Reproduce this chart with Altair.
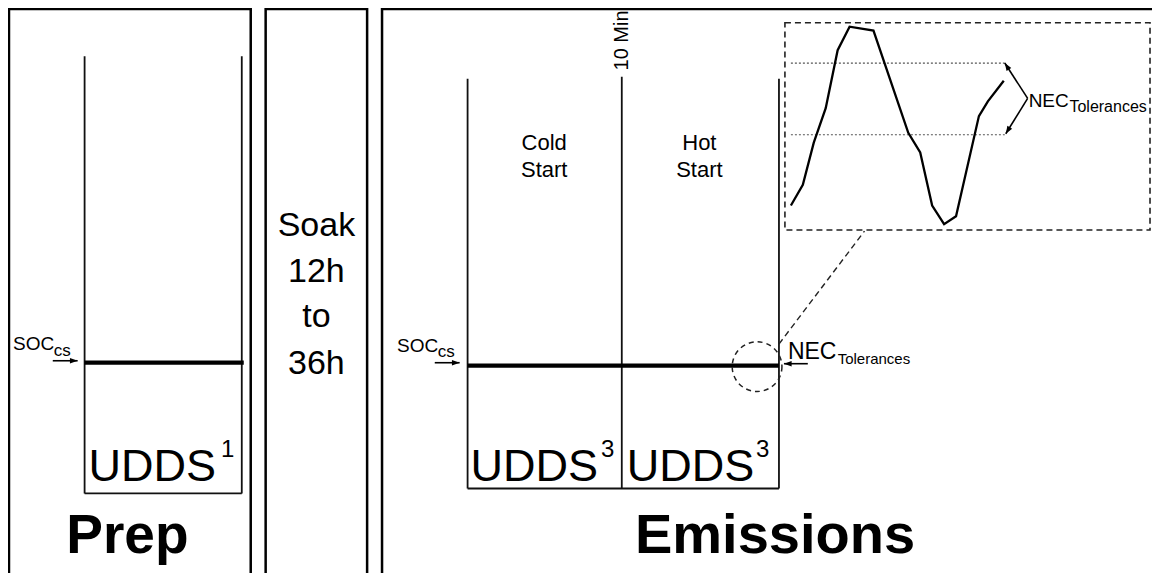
import math
import altair as alt
import pandas as pd

FONT = "Liberation Sans"

# ---------------- diagram geometry (diagram units ~ reference pixels) ----------------
# outer panels: Prep, Soak, Emissions
frame_x1 = [9, 267, 384]
frame_x2 = [252, 369, 1170]
frame_y1 = [4, 4, 4]
frame_y2 = [640, 640, 640]

# thin solid segments: prep cycle box, emissions cycle boxes, 10-min divider
thin_x1 = [85, 243, 85, 470, 625, 783, 470]
thin_y1 = [52, 52, 497, 75, 73, 75, 492]
thin_x2 = [85, 243, 243, 470, 625, 783, 783]
thin_y2 = [497, 497, 497, 492, 492, 492, 492]

# SOC (charge-sustaining) level lines
soc_x1 = [85, 470]
soc_x2 = [245, 783]
soc_y = [364, 367]

# arrows (tail -> head)
arrow_x1 = [53, 437, 812, 1033, 1033]
arrow_y1 = [362, 364, 365, 95, 95]
arrow_x2 = [78, 462, 788, 1010, 1011]
arrow_y2 = [362, 364, 365, 59, 131]

# zoomed-in SOC trace
trace_x = [795, 807, 818, 830, 842, 854, 878, 913, 925, 937, 949, 961, 984, 993, 1009]
trace_y = [204, 183, 140, 105, 46, 22, 26, 130, 150, 204, 223, 215, 113, 98, 77]

# tolerance band (dotted)
band_y = [59, 132]
band_x1 = [795, 795]
band_x2 = [1010, 1010]

# inset box, connector line, magnifier circle
inset_x1, inset_y1, inset_x2, inset_y2 = [789], [18], [1156], [229]
conn_x1, conn_y1, conn_x2, conn_y2 = [783], [345], [869], [230]
circle_x, circle_y, circle_r = [761], [368], 25

# texts
left_text = ["SOC", "cs", "SOC", "cs", "UDDS", "1", "UDDS", "3", "UDDS", "3",
             "NEC", "Tolerances", "NEC", "Tolerances"]
left_x = [13, 54, 399, 440, 89, 222, 473, 604, 630, 760, 792, 842, 1034, 1075]
left_y = [351, 357, 353, 358, 484, 460, 484, 460, 484, 460, 360, 365, 104, 109]
left_size = [19, 17, 19, 17, 45, 24, 45, 24, 45, 24, 23, 15, 19, 16]

center_text = ["Cold", "Start", "Hot", "Start", "Soak", "12h", "to", "36h"]
center_x = [547, 547, 703, 703, 318, 318, 318, 318]
center_y = [148, 175, 148, 175, 235, 282, 328, 375]
center_size = [22, 22, 22, 22, 34, 34, 34, 34]

bold_text = ["Prep", "Emissions"]
bold_x = [128, 779]
bold_y = [558, 558]
bold_size = [55, 56]

rot_text = ["10 Min"]
rot_x = [625]
rot_y = [36]
rot_size = [20]

# ---------------- scales ----------------
W, H = 1144, 565
XD = [8, 1158]
YD = [3, 578]
xs = alt.Scale(domain=XD, nice=False, zero=False)
ys = alt.Scale(domain=YD, nice=False, zero=False, reverse=True)


def X(f):
    return alt.X(f"{f}:Q", scale=xs, axis=None)


def Y(f):
    return alt.Y(f"{f}:Q", scale=ys, axis=None)


# ---------------- data frames ----------------
frames = pd.DataFrame({"x1": frame_x1, "x2": frame_x2, "y1": frame_y1, "y2": frame_y2})
thin = pd.DataFrame({"x1": thin_x1, "y1": thin_y1, "x2": thin_x2, "y2": thin_y2})
soc = pd.DataFrame({"x1": soc_x1, "x2": soc_x2, "y": soc_y})
arrows = pd.DataFrame({"x1": arrow_x1, "y1": arrow_y1, "x2": arrow_x2, "y2": arrow_y2})
arrows["ang"] = [
    math.degrees(math.atan2(x2 - x1, -(y2 - y1))) % 360
    for x1, y1, x2, y2 in zip(arrow_x1, arrow_y1, arrow_x2, arrow_y2)
]
trace = pd.DataFrame({"x": trace_x, "y": trace_y, "o": list(range(len(trace_x)))})
band = pd.DataFrame({"x1": band_x1, "x2": band_x2, "y": band_y})
inset = pd.DataFrame({"x1": inset_x1, "y1": inset_y1, "x2": inset_x2, "y2": inset_y2})
conn = pd.DataFrame({"x1": conn_x1, "y1": conn_y1, "x2": conn_x2, "y2": conn_y2})
circ = pd.DataFrame({"x": circle_x, "y": circle_y})
circle_px = 2 * circle_r * W / (XD[1] - XD[0])

tl = pd.DataFrame({"t": left_text, "x": left_x, "y": left_y, "s": left_size})
tc = pd.DataFrame({"t": center_text, "x": center_x, "y": center_y, "s": center_size})
tb = pd.DataFrame({"t": bold_text, "x": bold_x, "y": bold_y, "s": bold_size})
tr = pd.DataFrame({"t": rot_text, "x": rot_x, "y": rot_y, "s": rot_size})

# ---------------- layers ----------------
frame_layer = alt.Chart(frames).mark_rect(
    fillOpacity=0, stroke="black", strokeWidth=2.5
).encode(x=X("x1"), x2="x2:Q", y=Y("y1"), y2="y2:Q")

thin_layer = alt.Chart(thin).mark_rule(color="#111", strokeWidth=1.8).encode(
    x=X("x1"), y=Y("y1"), x2="x2:Q", y2="y2:Q")

soc_layer = alt.Chart(soc).mark_rule(color="black", strokeWidth=4.2).encode(
    x=X("x1"), x2="x2:Q", y=Y("y"))

arrow_shaft = alt.Chart(arrows).mark_rule(color="black", strokeWidth=1.6).encode(
    x=X("x1"), y=Y("y1"), x2="x2:Q", y2="y2:Q")

arrow_head = alt.Chart(arrows).mark_point(
    shape="M0,0L-0.8,2.2L0.8,2.2Z", filled=True, color="black", size=49, opacity=1
).encode(x=X("x2"), y=Y("y2"), angle=alt.Angle("ang:Q", scale=None))

trace_layer = alt.Chart(trace).mark_line(color="black", strokeWidth=2.3).encode(
    x=X("x"), y=Y("y"), order="o:Q")

band_layer = alt.Chart(band).mark_rule(color="#555", strokeWidth=1.2, strokeDash=[2, 2]).encode(
    x=X("x1"), x2="x2:Q", y=Y("y"))

inset_layer = alt.Chart(inset).mark_rect(
    fillOpacity=0, stroke="#222", strokeWidth=1.6, strokeDash=[6, 4]
).encode(x=X("x1"), x2="x2:Q", y=Y("y1"), y2="y2:Q")

conn_layer = alt.Chart(conn).mark_rule(color="#222", strokeWidth=1.4, strokeDash=[6, 4]).encode(
    x=X("x1"), y=Y("y1"), x2="x2:Q", y2="y2:Q")

circle_layer = alt.Chart(circ).mark_point(
    shape="circle", filled=False, stroke="#222", strokeWidth=1.5, strokeDash=[5, 4],
    size=circle_px ** 2, opacity=1
).encode(x=X("x"), y=Y("y"))

text_left = alt.Chart(tl).mark_text(
    align="left", baseline="alphabetic", font=FONT, color="black"
).encode(x=X("x"), y=Y("y"), text="t:N", size=alt.Size("s:Q", scale=None))

text_center = alt.Chart(tc).mark_text(
    align="center", baseline="alphabetic", font=FONT, color="black"
).encode(x=X("x"), y=Y("y"), text="t:N", size=alt.Size("s:Q", scale=None))

text_bold = alt.Chart(tb).mark_text(
    align="center", baseline="alphabetic", font=FONT, fontWeight="bold", color="black"
).encode(x=X("x"), y=Y("y"), text="t:N", size=alt.Size("s:Q", scale=None))

text_rot = alt.Chart(tr).mark_text(
    align="center", baseline="middle", font=FONT, angle=270, color="black"
).encode(x=X("x"), y=Y("y"), text="t:N", size=alt.Size("s:Q", scale=None))

chart = alt.layer(
    frame_layer, inset_layer, band_layer, thin_layer, soc_layer, trace_layer,
    conn_layer, circle_layer, arrow_shaft, arrow_head,
    text_left, text_center, text_bold, text_rot,
).properties(
    width=W, height=H, padding=0, autosize=alt.AutoSizeParams(type="none"),
    background="white",
).configure_view(stroke=None)

chart.save("out.html", embed_options={"renderer": "svg", "actions": False})
